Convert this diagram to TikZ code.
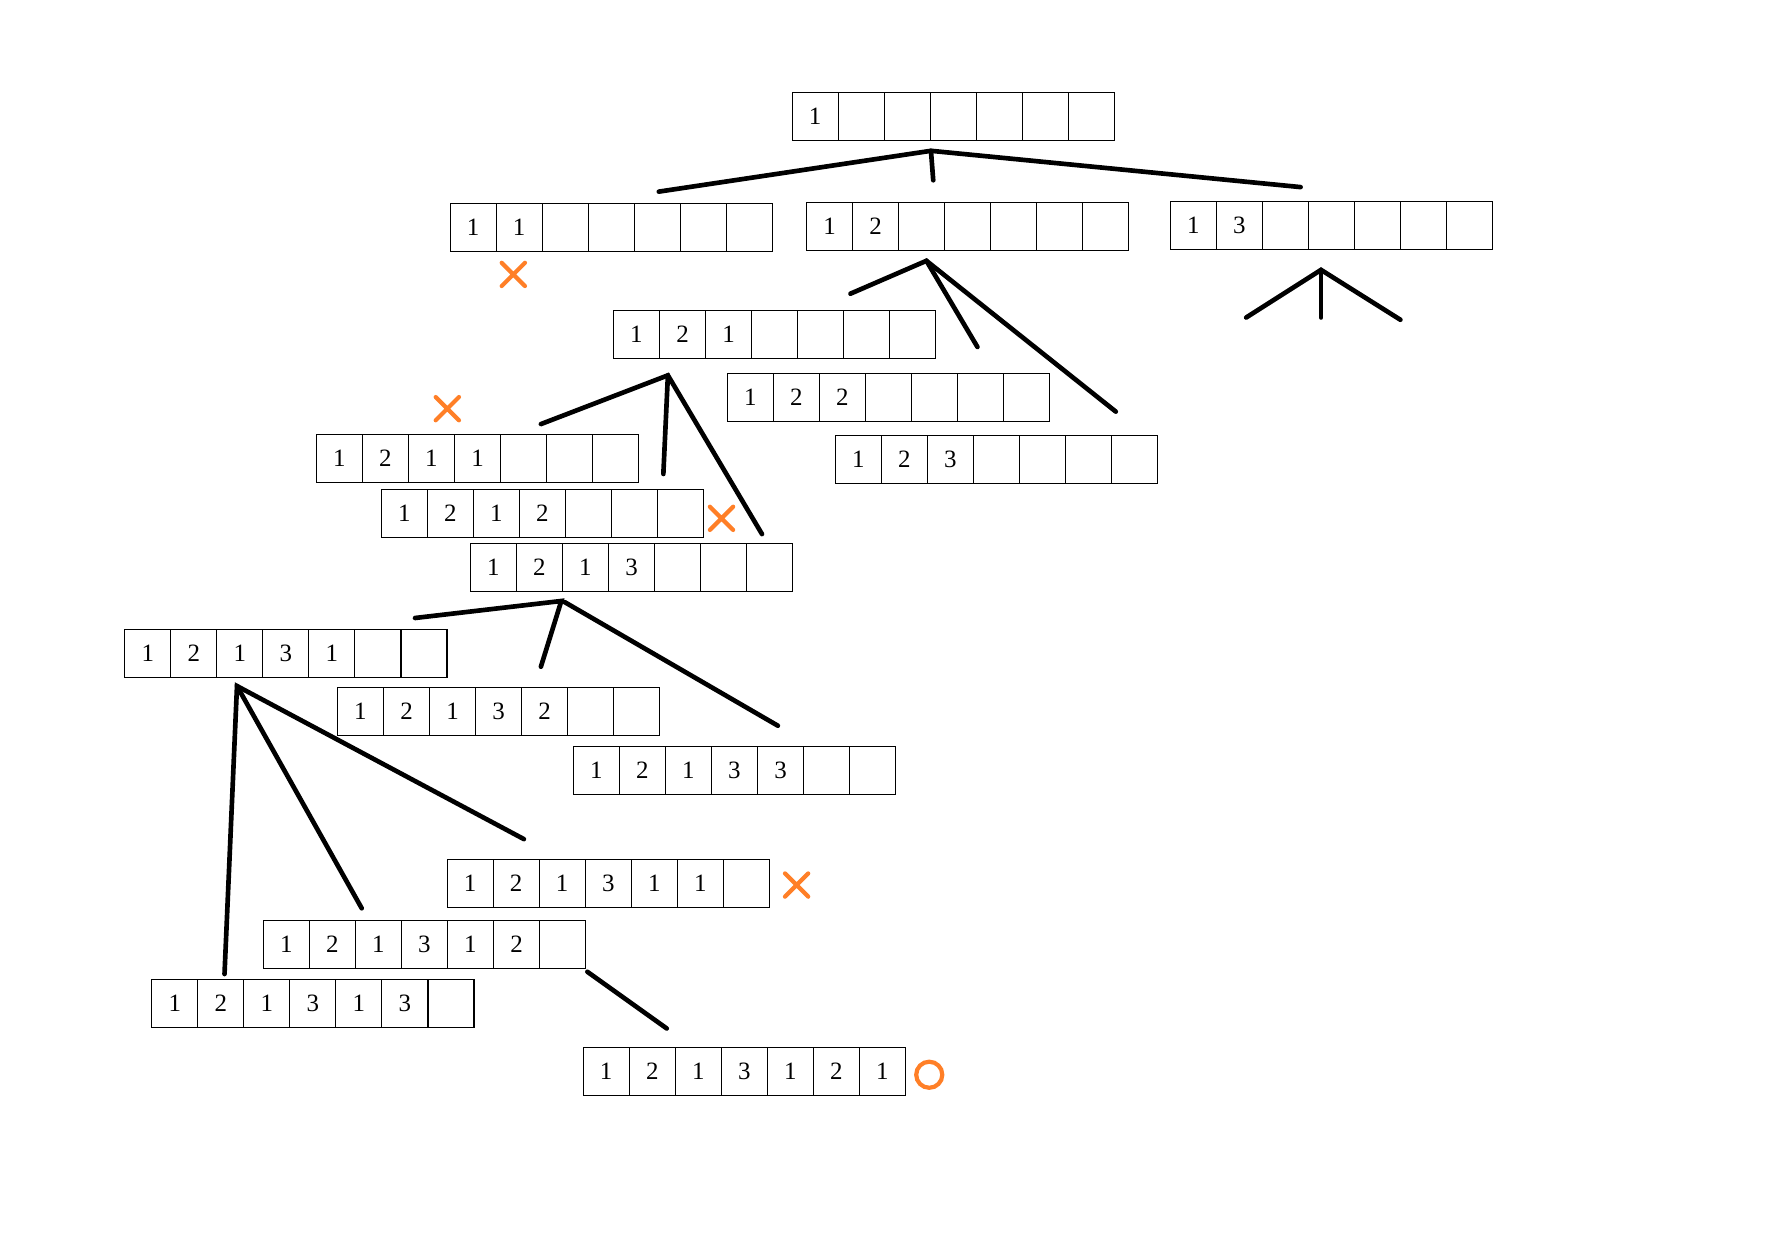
\documentclass[tikz,border=0pt]{standalone}
\usepackage{fontspec}
\setmainfont{Liberation Serif}
\usetikzlibrary{shapes.misc}
\definecolor{paintorange}{RGB}{255,127,39}
\tikzset{
  cellbox/.style={draw, line width=1pt, minimum width=40.6pt, minimum height=42.2pt,
    inner sep=0pt, outer sep=0pt, font=\fontsize{22}{22}\selectfont},
  branch/.style={line width=4.1pt, line cap=round, draw=black},
  nomark/.style={cross out, draw=paintorange, line width=3.7pt, line cap=round,
    minimum width=20.5pt, minimum height=20.5pt, inner sep=0pt, outer sep=0pt},
  okmark/.style={circle, draw=paintorange, line width=3.7pt, minimum size=23pt,
    inner sep=0pt, outer sep=0pt}
}
\newcommand\cellrow[4]{%
  \foreach \v [count=\i] in {#4} {%
    \node[cellbox] (#1-\i) at ({#2+(\i-0.5)*40.6},{#3+21.1}) {\v};}}
\begin{document}
\begin{tikzpicture}[x=1pt,y=-1pt]
\useasboundingbox[fill=white] (0,0) rectangle (1568,1092);
% arrays
\cellrow{a0}{698.6}{81.4}{1,{},{},{},{},{},{}}
\cellrow{a1}{397}{179.6}{1,1,{},{},{},{},{}}
\cellrow{a2}{711.3}{178.7}{1,2,{},{},{},{},{}}
\cellrow{a3}{1032}{177.6}{1,3,{},{},{},{},{}}
\cellrow{a4}{541}{273.7}{1,2,1,{},{},{},{}}
\cellrow{a5}{641.4}{329.4}{1,2,2,{},{},{},{}}
\cellrow{a6}{736.7}{384}{1,2,3,{},{},{},{}}
\cellrow{a7}{279}{383}{1,2,1,1,{},{},{}}
\cellrow{a8}{336.3}{431.5}{1,2,1,2,{},{},{}}
\cellrow{a9}{414.8}{479.2}{1,2,1,3,{},{},{}}
\cellrow{a10}{110}{555}{1,2,1,3,1,{},{}}
\cellrow{a11}{297.6}{606.2}{1,2,1,3,2,{},{}}
\cellrow{a12}{505.6}{658.2}{1,2,1,3,3,{},{}}
\cellrow{a13}{394.3}{757.9}{1,2,1,3,1,1,{}}
\cellrow{a14}{232.2}{811.7}{1,2,1,3,1,2,{}}
\cellrow{a15}{133.8}{863.7}{1,2,1,3,1,3,{}}
\cellrow{a16}{514.3}{923.7}{1,2,1,3,1,2,1}
% branch points
\coordinate (p0) at (821,133);
\coordinate (p0l) at (581,169);
\coordinate (p0m) at (823,159);
\coordinate (p0r) at (1147,165);
\coordinate (p2) at (817,230);
\coordinate (p2l) at (750,259);
\coordinate (p2m) at (862,306);
\coordinate (p2r) at (984,363);
\coordinate (p3) at (1165,238);
\coordinate (p3l) at (1099,280);
\coordinate (p3m) at (1165,280);
\coordinate (p3r) at (1235,282);
\coordinate (p4) at (589,331);
\coordinate (p4l) at (477,374);
\coordinate (p4m) at (585,418);
\coordinate (p4r) at (672,471);
\coordinate (p9) at (495,530);
\coordinate (p9l) at (366,545);
\coordinate (p9m) at (477,588);
\coordinate (p9s) at (498,531);
\coordinate (p9r) at (686,640);
\coordinate (p10) at (209,605);
\coordinate (p10l) at (198,859);
\coordinate (p10m) at (319,801);
\coordinate (p10r) at (462,740);
\coordinate (p14) at (518,857);
\coordinate (p14r) at (588,907);
\draw[branch] (p0l) -- (p0) -- (p0r);
\draw[branch] (p0) -- (p0m);
\draw[branch] (p2l) -- (p2) -- (p2r);
\draw[branch] (p2) -- (p2m);
\draw[branch] (p3l) -- (p3) -- (p3r);
\draw[branch] (p3) -- (p3m);
\draw[branch] (p4l) -- (p4) -- (p4r);
\draw[branch] (p4) -- (p4m);
\draw[branch] (p9l) -- (p9) -- (p9m);
\draw[branch] (p9s) -- (p9r);
\draw[branch] (p10l) -- (p10) -- (p10r);
\draw[branch] (p10) -- (p10m);
\draw[branch] (p14) -- (p14r);
% marks
\node[nomark] (x1) at (452.7,242) {};
\node[nomark] (x2) at (394.5,360.4) {};
\node[nomark] (x3) at (636.3,457.1) {};
\node[nomark] (x4) at (702.5,780.5) {};
\node[okmark] (o1) at (819.5,947.8) {};
\end{tikzpicture}
\end{document}
